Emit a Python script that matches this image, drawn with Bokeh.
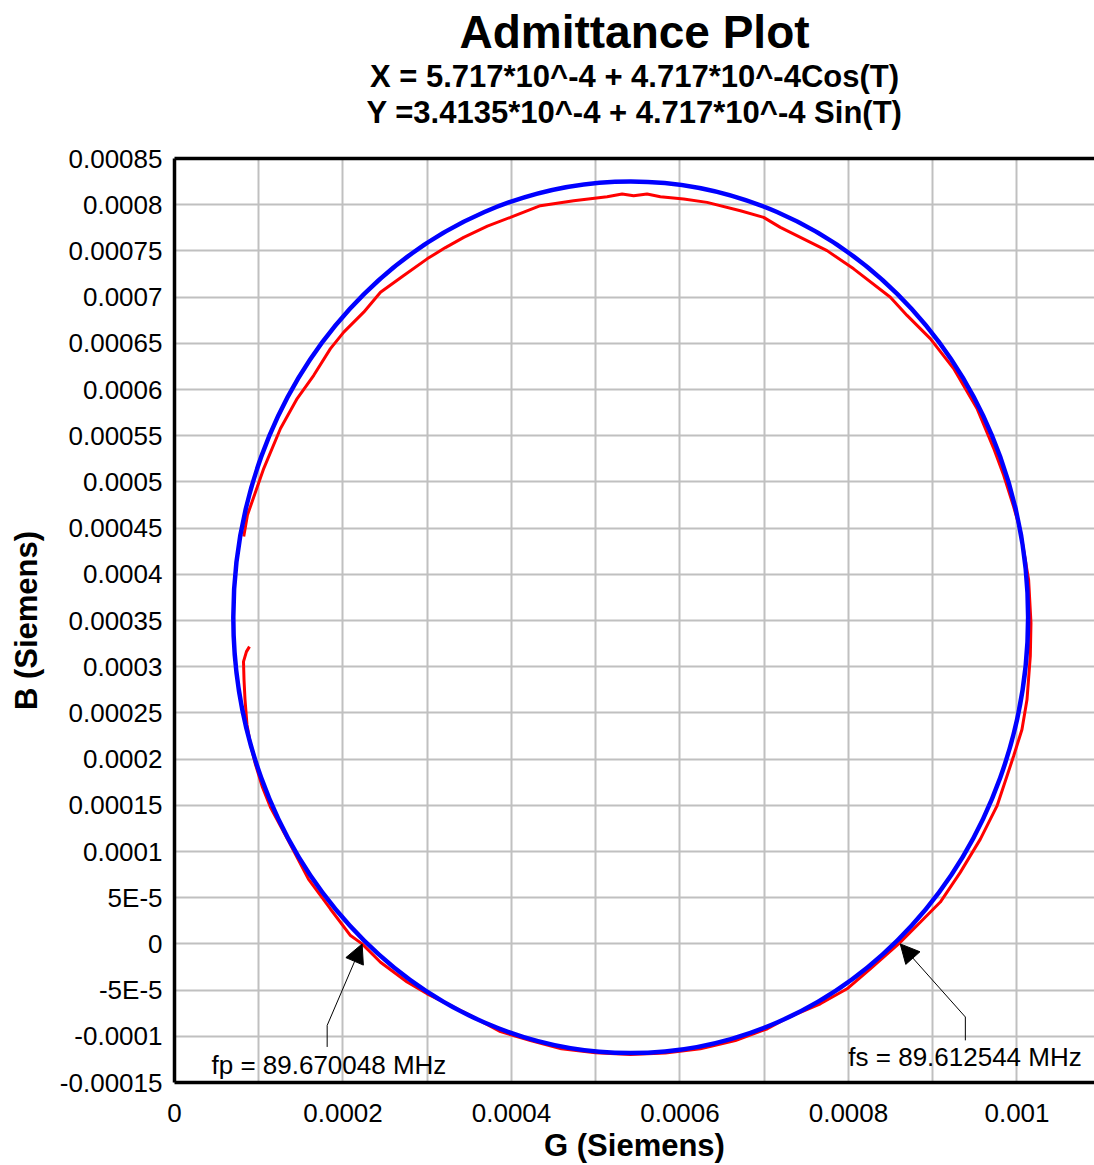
from bokeh.plotting import figure
from bokeh.models import (Range1d, LinearAxis, FixedTicker, Title, Arrow,
                          NormalHead, ColumnDataSource)
from bokeh.core.properties import value
from bokeh.embed import file_html
from bokeh.resources import INLINE

# Measured admittance sweep: conductance G and susceptance B (Siemens)
G_MEAS = [0.890e-4, 0.854e-4, 0.819e-4, 0.825e-4, 0.837e-4, 0.860e-4, 0.902e-4, 0.961e-4,
          1.044e-4, 1.139e-4, 1.341e-4, 1.590e-4, 1.851e-4, 2.089e-4, 2.227e-4, 2.445e-4,
          2.761e-4, 2.999e-4, 3.433e-4, 3.869e-4, 4.225e-4, 4.592e-4, 4.996e-4, 5.411e-4,
          5.827e-4, 6.242e-4, 6.657e-4, 7.037e-4, 7.291e-4, 7.666e-4, 7.983e-4, 8.259e-4,
          8.595e-4, 8.852e-4, 9.090e-4, 9.327e-4, 9.565e-4, 9.763e-4, 9.960e-4, 10.059e-4,
          10.119e-4, 10.158e-4, 10.166e-4, 10.138e-4, 10.039e-4, 9.960e-4, 9.841e-4, 9.722e-4,
          9.525e-4, 9.248e-4, 8.971e-4, 8.695e-4, 8.497e-4, 8.061e-4, 7.745e-4, 7.191e-4,
          6.993e-4, 6.717e-4, 6.321e-4, 6.044e-4, 5.767e-4, 5.609e-4, 5.450e-4, 5.313e-4,
          5.135e-4, 4.738e-4, 4.343e-4, 3.987e-4, 3.714e-4, 3.433e-4, 3.216e-4, 2.999e-4,
          2.721e-4, 2.445e-4, 2.246e-4, 2.009e-4, 1.851e-4, 1.653e-4, 1.456e-4, 1.258e-4,
          1.060e-4, 0.949e-4, 0.866e-4, 0.822e-4]
B_MEAS = [3.217e-4, 3.163e-4, 3.055e-4, 2.861e-4, 2.645e-4, 2.375e-4, 2.159e-4, 1.943e-4,
          1.695e-4, 1.479e-4, 1.134e-4, 0.702e-4, 0.378e-4, 0.090e-4, 0.000, -0.198e-4,
          -0.413e-4, -0.540e-4, -0.737e-4, -0.950e-4, -1.047e-4, -1.134e-4, -1.177e-4, -1.198e-4,
          -1.182e-4, -1.134e-4, -1.047e-4, -0.918e-4, -0.794e-4, -0.648e-4, -0.486e-4, -0.270e-4,
          0.000, 0.234e-4, 0.453e-4, 0.774e-4, 1.134e-4, 1.493e-4, 2.033e-4, 2.321e-4,
          2.645e-4, 3.113e-4, 3.473e-4, 3.941e-4, 4.480e-4, 4.732e-4, 5.074e-4, 5.366e-4,
          5.794e-4, 6.226e-4, 6.550e-4, 6.802e-4, 6.999e-4, 7.306e-4, 7.503e-4, 7.755e-4,
          7.863e-4, 7.935e-4, 8.025e-4, 8.061e-4, 8.086e-4, 8.115e-4, 8.097e-4, 8.115e-4,
          8.086e-4, 8.043e-4, 7.989e-4, 7.863e-4, 7.768e-4, 7.647e-4, 7.536e-4, 7.414e-4,
          7.233e-4, 7.053e-4, 6.837e-4, 6.621e-4, 6.442e-4, 6.154e-4, 5.902e-4, 5.578e-4,
          5.147e-4, 4.858e-4, 4.642e-4, 4.408e-4]

# Fitted admittance circle
CIRCLE_G0 = 5.415e-4
CIRCLE_B0 = 3.535e-4
CIRCLE_R = 4.717e-4

# Resonance markers
MARK_TEXT = ["fp = 89.670048 MHz", "fs = 89.612544 MHz"]
MARK_TIP_G = [2.227e-4, 8.614e-4]
MARK_TIP_B = [0.0, 0.0]
MARK_ELBOW_G = [1.812e-4, 9.387e-4]
MARK_ELBOW_B = [-0.882e-4, -0.791e-4]
MARK_FOOT_B = [-1.115e-4, -1.044e-4]
MARK_TEXT_G = [0.439e-4, 7.998e-4]
MARK_TEXT_B = [-1.306e-4, -1.220e-4]

X_TICK_LABELS = ["0", "0.0002", "0.0004", "0.0006", "0.0008", "0.001"]
X_GRID_MINOR = [0.0001, 0.0003, 0.0005, 0.0007, 0.0009]
Y_TICK_LABELS = ["-0.00015", "-0.0001", "-5E-5", "0", "5E-5", "0.0001", "0.00015",
                 "0.0002", "0.00025", "0.0003", "0.00035", "0.0004", "0.00045", "0.0005",
                 "0.00055", "0.0006", "0.00065", "0.0007", "0.00075", "0.0008", "0.00085"]

X_TICKS = [float(s) for s in X_TICK_LABELS]
Y_TICKS = [float(s) for s in Y_TICK_LABELS]

FONT = "Liberation Sans"
GRID = "#c0c0c0"

p = figure(width=1094, height=1165, output_backend="svg", toolbar_location=None,
           x_range=Range1d(0, 0.001092), y_range=Range1d(-0.00015, 0.00085),
           min_border_left=174, min_border_right=0, min_border_top=157,
           min_border_bottom=82)
p.title = None
p.outline_line_color = None
p.background_fill_color = "white"
p.border_fill_color = "white"

xticker = FixedTicker(ticks=X_TICKS, minor_ticks=X_GRID_MINOR)
yticker = FixedTicker(ticks=Y_TICKS)

for ax in (p.xaxis[0], p.yaxis[0]):
    ax.axis_line_width = 3.5
    ax.axis_line_color = "black"
    ax.major_tick_line_color = None
    ax.minor_tick_line_color = None
    ax.major_label_text_font = FONT
    ax.major_label_text_font_size = "26px"
    ax.major_label_text_color = "black"
    ax.axis_label_text_font = FONT
    ax.axis_label_text_font_style = "bold"
    ax.axis_label_text_font_size = "31px"
    ax.axis_label_text_color = "black"

p.xaxis.ticker = xticker
p.xaxis.major_label_overrides = {float(s): s for s in X_TICK_LABELS}
p.xaxis.major_label_standoff = 15
p.xaxis.axis_label = "G (Siemens)"
p.xaxis.axis_label_standoff = 3

p.yaxis.ticker = yticker
p.yaxis.major_label_overrides = {float(s): s for s in Y_TICK_LABELS}
p.yaxis.major_label_standoff = 6
p.yaxis.axis_label = "B (Siemens)"
p.yaxis.axis_label_standoff = 13

# top frame line; its blank label keeps a gap under the title block
top = LinearAxis(ticker=FixedTicker(ticks=[]), axis_line_width=3.5, axis_line_color="black",
                 major_tick_line_color=None, minor_tick_line_color=None,
                 major_label_text_font_size="0px", axis_label=" ",
                 axis_label_text_font_size="1px", axis_label_standoff=22)
p.add_layout(top, "above")

p.xgrid.ticker = xticker
p.ygrid.ticker = yticker
for g in (p.xgrid[0], p.ygrid[0]):
    g.grid_line_color = GRID
    g.grid_line_width = 2
p.xgrid.minor_grid_line_color = GRID
p.xgrid.minor_grid_line_width = 2

# measured sweep, then the fitted circle on top
p.line(G_MEAS, B_MEAS, line_color="#ff0000", line_width=3)
p.ellipse(x=[CIRCLE_G0], y=[CIRCLE_B0], width=[2 * CIRCLE_R], height=[2 * CIRCLE_R],
          fill_color=None, line_color="#0000ff", line_width=4.5)

# resonance markers with leader lines
p.segment(x0=MARK_ELBOW_G, y0=MARK_FOOT_B, x1=MARK_ELBOW_G, y1=MARK_ELBOW_B,
          line_color="black", line_width=1)
for i in range(len(MARK_TEXT)):
    p.add_layout(Arrow(end=NormalHead(size=19, fill_color="black", line_color="black"),
                       x_start=MARK_ELBOW_G[i], y_start=MARK_ELBOW_B[i],
                       x_end=MARK_TIP_G[i], y_end=MARK_TIP_B[i],
                       line_color="black", line_width=1))
src = ColumnDataSource(dict(x=MARK_TEXT_G, y=MARK_TEXT_B, t=MARK_TEXT))
p.text(x="x", y="y", text="t", source=src, text_font=value(FONT), text_font_size="26px",
       text_align="left", text_baseline="middle", text_color="black")

# title block, stacked outward from the frame
TITLES = [("Y =3.4135*10^-4 + 4.717*10^-4 Sin(T)", "31px", 6),
          ("X = 5.717*10^-4 + 4.717*10^-4Cos(T)", "31px", -8),
          ("Admittance Plot", "46px", 6)]
for text, size, gap in TITLES:
    p.add_layout(Title(text=text, align="center", offset=3, standoff=gap, text_font=FONT,
                       text_font_style="bold", text_font_size=size, text_color="black"),
                 "above")

open("out.html", "w").write(file_html(p, INLINE))
